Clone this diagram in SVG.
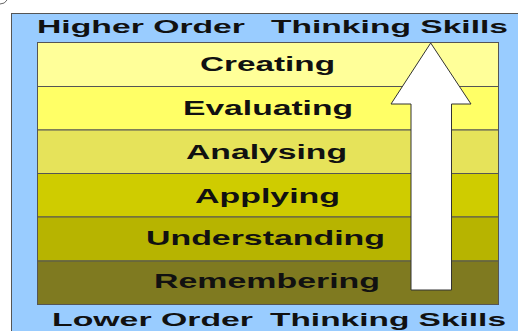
<svg xmlns="http://www.w3.org/2000/svg" width="518" height="331" viewBox="0 0 518 331">
<style>
.t{font-family:"Liberation Sans",Arial,sans-serif;font-weight:bold;fill:#111;}
.h{font-size:18px;}
.r{font-size:20px;}
.row{stroke:#555;stroke-width:1;}
</style>
<rect width="518" height="331" fill="#fff"/>
<path d="M0,4 Q5,4 7,0" fill="none" stroke="#666" stroke-width="1"/>
<g id="frame">
<rect x="11.5" y="13.5" width="520" height="330" fill="#99CCFF" stroke="#555" stroke-width="1"/>
<text class="t h" x="37" y="33" textLength="208" lengthAdjust="spacingAndGlyphs">Higher Order</text>
<text class="t h" x="271" y="33" textLength="237" lengthAdjust="spacingAndGlyphs">Thinking Skills</text>
<text class="t h" x="52" y="326" textLength="201" lengthAdjust="spacingAndGlyphs">Lower Order</text>
<text class="t h" x="270" y="326" textLength="236" lengthAdjust="spacingAndGlyphs">Thinking Skills</text>
</g>
<g id="creating">
<rect class="row" x="37.5" y="42.5" width="461" height="44" fill="#FFFF99"/>
<text class="t r" x="200" y="71" textLength="135" lengthAdjust="spacingAndGlyphs">Creating</text>
</g>
<g id="evaluating">
<rect class="row" x="37.5" y="86.5" width="461" height="43.5" fill="#FFFF66"/>
<text class="t r" x="183" y="114.5" textLength="170" lengthAdjust="spacingAndGlyphs">Evaluating</text>
</g>
<g id="analysing">
<rect class="row" x="37.5" y="130" width="461" height="43.5" fill="#E6E35A"/>
<text class="t r" x="186" y="158.5" textLength="161" lengthAdjust="spacingAndGlyphs">Analysing</text>
</g>
<g id="applying">
<rect class="row" x="37.5" y="173.5" width="461" height="43.5" fill="#CFCC00"/>
<text class="t r" x="195" y="203" textLength="145" lengthAdjust="spacingAndGlyphs">Applying</text>
</g>
<g id="understanding">
<rect class="row" x="37.5" y="217" width="461" height="44" fill="#B7B400"/>
<text class="t r" x="146" y="244.5" textLength="239" lengthAdjust="spacingAndGlyphs">Understanding</text>
</g>
<g id="remembering">
<rect class="row" x="37.5" y="261" width="461" height="43.5" fill="#7F7A20"/>
<text class="t r" x="154" y="288" textLength="226" lengthAdjust="spacingAndGlyphs">Remembering</text>
</g>
<g id="connectors">
<polygon points="430.7,43 471,104 451.5,104 451.5,290 411,290 411,104 391,104" fill="#fff" stroke="#333" stroke-width="1"/>
</g>
</svg>
